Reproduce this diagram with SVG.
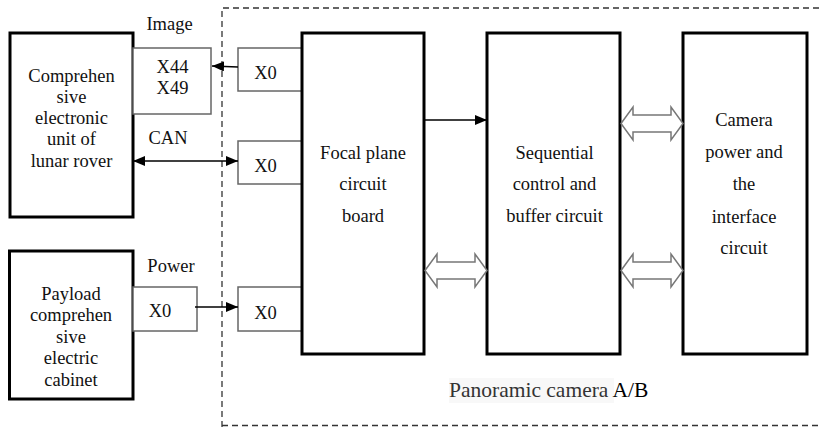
<svg xmlns="http://www.w3.org/2000/svg" width="820" height="427" viewBox="0 0 820 427">
<style>
.t{font-size:18.5px;fill:#111;text-anchor:middle}
.big{stroke:#000;stroke-width:3;fill:#fff}
.sm{stroke:#666;stroke-width:1.5;fill:#fff}
.ln{stroke:#000;stroke-width:1.5;fill:none}
.hol{stroke:#777;stroke-width:1.5;fill:#fff}
</style>
<defs>
<marker id="ah" viewBox="0 0 12 10" refX="12" refY="5" markerWidth="12" markerHeight="10" markerUnits="userSpaceOnUse" orient="auto-start-reverse">
<path d="M0,0 L12,5 L0,10 Z" fill="#000"/>
</marker>
</defs>
<rect width="820" height="427" fill="#fff"/>
<path d="M222,427 V8 H822 M222,425.5 H822" stroke="#333" stroke-width="1.3" fill="none" stroke-dasharray="6,4"/>
<g font-family="Liberation Serif, Times New Roman, serif">
<g id="unit">
<rect class="big" x="10" y="33" width="123" height="184"/>
<text class="t" x="71.5" y="82">Comprehen</text>
<text class="t" x="71.5" y="103">sive</text>
<text class="t" x="71.5" y="124">electronic</text>
<text class="t" x="71.5" y="145">unit of</text>
<text class="t" x="71.5" y="166.5">lunar rover</text>
</g>
<g id="x44">
<rect class="sm" x="133" y="48" width="78" height="66"/>
<text class="t" x="172.5" y="73">X44</text>
<text class="t" x="172.5" y="94">X49</text>
</g>
<g id="cabinet">
<rect class="big" x="9.5" y="251" width="123.5" height="148"/>
<text class="t" x="71" y="300">Payload</text>
<text class="t" x="71" y="321">comprehen</text>
<text class="t" x="71" y="342.5">sive</text>
<text class="t" x="71" y="364">electric</text>
<text class="t" x="71" y="385.5">cabinet</text>
</g>
<g id="powerx0">
<rect class="sm" x="133" y="287" width="64" height="44"/>
<text class="t" x="160" y="316.5">X0</text>
</g>
<g id="x0a">
<rect class="sm" x="238" y="48" width="64" height="43"/>
<text class="t" x="265.5" y="79">X0</text>
</g>
<g id="x0b">
<rect class="sm" x="238" y="141" width="64" height="43"/>
<text class="t" x="265.5" y="171.5">X0</text>
</g>
<g id="x0c">
<rect class="sm" x="238" y="287" width="64" height="44"/>
<text class="t" x="265.5" y="319">X0</text>
</g>
<g id="focal">
<rect class="big" x="302" y="33" width="122" height="321"/>
<text class="t" x="363" y="158.5">Focal plane</text>
<text class="t" x="363" y="190">circuit</text>
<text class="t" x="363" y="221.5">board</text>
</g>
<g id="sequential">
<rect class="big" x="487" y="33" width="133" height="321"/>
<text class="t" x="554.5" y="158.5">Sequential</text>
<text class="t" x="554.5" y="190">control and</text>
<text class="t" x="554.5" y="221.5">buffer circuit</text>
</g>
<g id="camera">
<rect class="big" x="683" y="33" width="124" height="321"/>
<text class="t" x="744" y="126">Camera</text>
<text class="t" x="744" y="158">power and</text>
<text class="t" x="744" y="190">the</text>
<text class="t" x="744" y="222.5">interface</text>
<text class="t" x="744" y="254">circuit</text>
</g>
<g id="labels">
<text class="t" x="169.5" y="30">Image</text>
<text class="t" x="168" y="144">CAN</text>
<text class="t" x="171" y="272">Power</text>
<rect x="449" y="378" width="165" height="25" fill="#f8f8f8"/>
<text x="449" y="396.5" font-size="21.5" fill="#333">Panoramic camera <tspan fill="#000">A/B</tspan></text>
</g>
</g>
<g id="connectors">
<path class="ln" d="M238,67 L212,66" marker-end="url(#ah)"/>
<path class="ln" d="M133,161 H238" marker-start="url(#ah)" marker-end="url(#ah)"/>
<path class="ln" d="M195,307 H238" marker-end="url(#ah)"/>
<path class="ln" d="M424,120 H487" marker-end="url(#ah)"/>
<path class="hol" d="M425,270.5 L437,254 V262 H475 V254 L487,270.5 L475,287 V279 H437 V287 Z"/>
<path class="hol" d="M621,123.5 L633,107 V115 H671 V107 L683,123.5 L671,140 V132 H633 V140 Z"/>
<path class="hol" d="M621,270.5 L633,254 V262 H671 V254 L683,270.5 L671,287 V279 H633 V287 Z"/>
</g>
</svg>
